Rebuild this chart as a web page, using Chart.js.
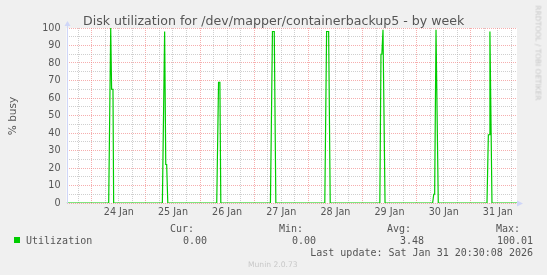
<!DOCTYPE html>
<html>
<head>
<meta charset="utf-8">
<title>Disk utilization - by week</title>
<script src="https://cdn.jsdelivr.net/npm/chart.js@4/dist/chart.umd.min.js"></script>
<style>
    html, body { margin: 0; padding: 0; background: #f0f0f0; }
    #wrap { position: relative; width: 547px; height: 275px; background: #f0f0f0; overflow: hidden; }
    #wrap canvas { position: absolute; left: 0; top: 0; }
    .txt { position: absolute; white-space: nowrap; line-height: 1; }
</style>
</head>
<body>
<div id="wrap"><canvas id="mainChart"></canvas></div>
<script>
// --- Data (hours since 24 Jan 00:00, % busy) ---
const hours = [
    -11.2,
    7.5, 8.4, 8.8, 9.4, 9.7,
    31.3, 32.3, 32.8, 33.2, 33.7,
    55.4, 56.2, 56.8, 57.2,
    79.2, 80.1, 80.9, 81.6,
    103.3, 104.1, 105.0, 105.7,
    127.7, 128.2, 128.6, 129.1, 130.0,
    151.1, 151.6, 152.0, 152.6, 152.9, 153.6,
    175.2, 175.8, 176.2, 176.5, 177.4,
    188.5
];
const busy = [
    0,
    0, 100, 65, 65, 0,
    0, 98, 22, 22, 0,
    0, 69, 69, 0,
    0, 98, 98, 0,
    0, 98, 98, 0,
    0, 85, 85, 99, 0,
    0, 5, 5, 99, 99, 0,
    0, 39, 39, 98, 0,
    0
];
const dayLabels = ['24 Jan', '25 Jan', '26 Jan', '27 Jan', '28 Jan', '29 Jan', '30 Jan', '31 Jan'];
const xRange = [-11.2, 188.5];

const legendHead = ['Cur:', 'Min:', 'Avg:', 'Max:'];
const legendVals = ['0.00', '0.00', '3.48', '100.01'];

// --- Colours / fonts ---
const FONT_COLOR = '#555';
const AXIS_COLOR = '#cfd6f8';
const GRID_MINOR = 'rgba(175,175,175,0.6)';
const GRID_MAJOR = 'rgba(240,120,120,0.6)';
const LINE_COLOR = '#00cc00';

// --- Text around the plot ---
function addText(text, x, y, opts) {
    const el = document.createElement('div');
    el.className = 'txt';
    el.textContent = text;
    el.style.font = opts.font;
    el.style.color = opts.color || FONT_COLOR;
    el.style.left = x + 'px';
    el.style.top = y + 'px';
    let tf = opts.align === 'right' ? 'translate(-100%,-50%)'
           : opts.align === 'center' ? 'translate(-50%,-50%)' : 'translate(0,-50%)';
    if (opts.rotate) tf += ` rotate(${opts.rotate}deg)`;
    el.style.transform = tf;
    document.getElementById('wrap').appendChild(el);
    return el;
}

function renderTexts() {
    const sans = '"DejaVu Sans", sans-serif';
    const mono = '"DejaVu Sans Mono", monospace';
    addText('Disk utilization for /dev/mapper/containerbackup5 - by week', 83, 19.5, { font: `12.6px ${sans}`, color: '#555' });

    const yl = addText('% busy', 12, 116, { font: `10.5px ${sans}`, align: 'center' });
    yl.style.transform = 'translate(-50%,-50%) rotate(-90deg)';

    const rr = addText('RRDTOOL / TOBI OETIKER', 537.5, 53, { font: `7.4px ${sans}`, color: '#c8c8c8', align: 'center' });
    rr.style.transform = 'translate(-50%,-50%) rotate(90deg)';

    // legend
    const sw = document.createElement('div');
    sw.style.cssText = `position:absolute;left:14px;top:237px;width:6px;height:6px;background:${LINE_COLOR};`;
    document.getElementById('wrap').appendChild(sw);
    addText('Utilization', 26, 239.7, { font: `10px ${mono}` });

    const headRight = [194, 303, 411, 520];
    const valRight = [207, 316, 424, 533];
    legendHead.forEach((h, i) => addText(h, headRight[i], 228, { font: `10px ${mono}`, align: 'right' }));
    legendVals.forEach((v, i) => addText(v, valRight[i], 239.7, { font: `10px ${mono}`, align: 'right' }));

    addText('Last update: Sat Jan 31 20:30:08 2026', 533, 251.8, { font: `10px ${mono}`, align: 'right' });
    addText('Munin 2.0.73', 248, 264, { font: `7.6px ${sans}`, color: '#c8c8c8' });
}

// --- Plot decoration: white canvas, axes with arrows ---
const framePlugin = {
    id: 'frame',
    beforeDraw(chart) {
        const { ctx, chartArea: a } = chart;
        ctx.save();
        ctx.fillStyle = '#ffffff';
        ctx.fillRect(a.left, a.top, a.right - a.left, a.bottom - a.top);
        ctx.restore();
    },
    afterDraw(chart) {
        const { ctx, chartArea: a } = chart;
        ctx.save();
        ctx.strokeStyle = AXIS_COLOR;
        ctx.fillStyle = AXIS_COLOR;
        ctx.lineWidth = 1;
        const lx = Math.round(a.left) + 0.5;
        ctx.beginPath();
        ctx.moveTo(lx, a.bottom + 0.5);
        ctx.lineTo(lx, a.top - 2);
        ctx.stroke();
        // top arrow
        ctx.beginPath();
        ctx.moveTo(lx - 3, a.top - 2);
        ctx.lineTo(lx + 3, a.top - 2);
        ctx.lineTo(lx, a.top - 7);
        ctx.closePath();
        ctx.fill();
        // right arrow
        const by = Math.round(a.bottom) + 0.5;
        ctx.beginPath();
        ctx.moveTo(a.right, by - 3);
        ctx.lineTo(a.right, by + 3);
        ctx.lineTo(a.right + 6, by);
        ctx.closePath();
        ctx.fill();
        ctx.restore();
    }
};

function renderChart() {
    const ctx = document.getElementById('mainChart').getContext('2d');
    const points = hours.map((h, i) => ({ x: h, y: busy[i] }));

    new Chart(ctx, {
        type: 'line',
        data: {
            datasets: [{
                label: 'Utilization',
                data: points,
                borderColor: LINE_COLOR,
                backgroundColor: 'transparent',
                borderWidth: 1.2,
                pointRadius: 0,
                tension: 0,
                fill: false
            }]
        },
        options: {
            responsive: true,
            maintainAspectRatio: false,
            animation: false,
            layout: { padding: { left: 0, top: 28, right: 30, bottom: 0 } },
            plugins: {
                legend: { display: false },
                tooltip: { enabled: false },
                title: { display: false }
            },
            scales: {
                x: {
                    type: 'linear',
                    min: xRange[0],
                    max: xRange[1],
                    afterFit: s => { s.height = 72; },
                    border: { display: false, dash: [1, 1] },
                    grid: {
                        drawTicks: false,
                        color: c => (c.tick && c.tick.value % 24 === 0) ? GRID_MAJOR : GRID_MINOR
                    },
                    ticks: {
                        stepSize: 6,
                        includeBounds: false,
                        autoSkip: false,
                        maxRotation: 0,
                        padding: 4,
                        color: FONT_COLOR,
                        font: { family: 'DejaVu Sans', size: 9.6 },
                        callback: v => {
                            if (((v % 24) + 24) % 24 !== 12) return '';
                            return dayLabels[(v - 12) / 24] || '';
                        }
                    }
                },
                y: {
                    min: 0,
                    max: 100,
                    afterFit: s => { s.width = 66.5; },
                    border: { display: false, dash: [1, 1] },
                    grid: {
                        drawTicks: false,
                        color: c => (c.tick && c.tick.value % 10 === 0) ? GRID_MAJOR : GRID_MINOR
                    },
                    ticks: {
                        stepSize: 5,
                        autoSkip: false,
                        padding: 6,
                        color: FONT_COLOR,
                        font: { family: 'DejaVu Sans', size: 9.6 },
                        callback: v => v % 10 === 0 ? String(v) : ''
                    }
                }
            }
        },
        plugins: [framePlugin]
    });
}

document.addEventListener('DOMContentLoaded', () => {
    renderTexts();
    renderChart();
});
</script>
</body>
</html>
